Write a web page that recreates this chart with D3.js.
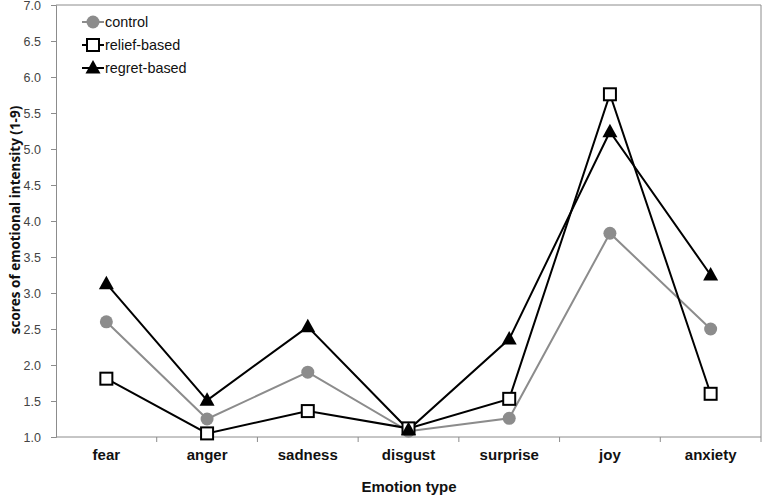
<!DOCTYPE html>
<html><head><meta charset="utf-8">
<script src="https://cdn.jsdelivr.net/npm/d3@7"></script>
<style>body{margin:0;background:#fff}</style>
</head><body>
<svg id="c" width="762" height="496"></svg>
<script>
const categories = ["fear","anger","sadness","disgust","surprise","joy","anxiety"];
const control = [2.60, 1.25, 1.90, 1.08, 1.26, 3.83, 2.50];
const relief  = [1.81, 1.05, 1.36, 1.12, 1.53, 5.76, 1.60];
const regret  = [3.13, 1.51, 2.53, 1.10, 2.36, 5.24, 3.25];
const yTicks = [1.0,1.5,2.0,2.5,3.0,3.5,4.0,4.5,5.0,5.5,6.0,6.5,7.0];
const seriesNames = ["control","relief-based","regret-based"];

const svg = d3.select("#c");
const L = 56, R = 761, T = 5, B = 437;
const x = d3.scaleBand().domain(categories).range([L, R]);
const y = d3.scaleLinear().domain([1, 7]).range([B, T]);
const axisColor = "#8c8c8c";

// plot border (top/right)
svg.append("path").attr("d", `M${L},${T}H${R}V${B}`).attr("fill","none").attr("stroke",axisColor).attr("stroke-width",1);

// y axis
const ya = svg.append("g").attr("transform",`translate(${L},0)`)
  .call(d3.axisLeft(y).tickValues(yTicks).tickFormat(d3.format(".1f")).tickSize(5).tickPadding(10));
ya.select(".domain").attr("stroke",axisColor);
ya.selectAll(".tick line").attr("stroke",axisColor);
ya.selectAll(".tick text").attr("font-family","Liberation Sans, Arial, sans-serif").attr("font-size",12.5).attr("fill","#444");

// x axis
const xa = svg.append("g").attr("transform",`translate(0,${B})`)
  .call(d3.axisBottom(x).tickSize(0).tickPadding(12));
xa.select(".domain").attr("stroke",axisColor).attr("d",`M${L},0H${R}`);
xa.selectAll(".tick text").attr("font-family","Liberation Sans Narrow, Arial Narrow, Liberation Sans, sans-serif").attr("font-weight","bold").attr("font-size",15).attr("fill","#111");
// boundary ticks
xa.selectAll(".bt").data(categories).enter().append("line")
  .attr("x1",(d,i)=>L + x.bandwidth()*(i+1)).attr("x2",(d,i)=>L + x.bandwidth()*(i+1))
  .attr("y1",0).attr("y2",5).attr("stroke",axisColor);

// axis titles
svg.append("text").attr("x", 409).attr("y", 492).attr("text-anchor","middle")
  .attr("font-family","Liberation Sans Narrow, Arial Narrow, Liberation Sans, sans-serif").attr("font-weight","bold").attr("font-size",15).attr("fill","#111")
  .text("Emotion type");
svg.append("text").attr("transform",`translate(20,220) rotate(-90)`).attr("text-anchor","middle")
  .attr("font-family","Open Sans, Liberation Sans, sans-serif").attr("font-weight","bold").attr("font-size",13.5).attr("fill","#111")
  .text("scores of emotional intensity (1-9)");

const cx = d => x(d) + x.bandwidth()/2;
const line = d3.line().x((d,i)=>cx(categories[i])).y(d=>y(d));

const series = [
  {name: seriesNames[0], values: control, color:"#8c8c8c", marker:"circle"},
  {name: seriesNames[1], values: relief, color:"#000", marker:"square"},
  {name: seriesNames[2], values: regret, color:"#000", marker:"triangle"}
];

function drawMarker(g, type, px, py, color){
  if(type==="circle") g.append("circle").attr("cx",px).attr("cy",py).attr("r",6.5).attr("fill",color);
  else if(type==="square") g.append("rect").attr("x",px-6).attr("y",py-6).attr("width",12).attr("height",12).attr("fill","#fff").attr("stroke","#000").attr("stroke-width",2);
  else g.append("path").attr("d",`M${px},${py-8}L${px+7.5},${py+5.5}L${px-7.5},${py+5.5}Z`).attr("fill","#000");
}

series.forEach(s=>{
  svg.append("path").datum(s.values).attr("d",line).attr("fill","none").attr("stroke",s.color).attr("stroke-width",2);
});
series.forEach(s=>{
  const g = svg.append("g");
  s.values.forEach((v,i)=>drawMarker(g, s.marker, cx(categories[i]), y(v), s.color));
});

// legend
const leg = svg.append("g");
series.forEach((s,i)=>{
  const ly = 22 + i*23;
  leg.append("line").attr("x1",82).attr("x2",104).attr("y1",ly).attr("y2",ly).attr("stroke",s.color).attr("stroke-width",2);
  drawMarker(leg, s.marker, 93, ly, s.color);
  leg.append("text").attr("x",105).attr("y",ly+5).attr("font-family","Liberation Sans, Arial, sans-serif").attr("font-size",14.4).attr("fill","#111").text(s.name);
});
</script>
</body></html>
